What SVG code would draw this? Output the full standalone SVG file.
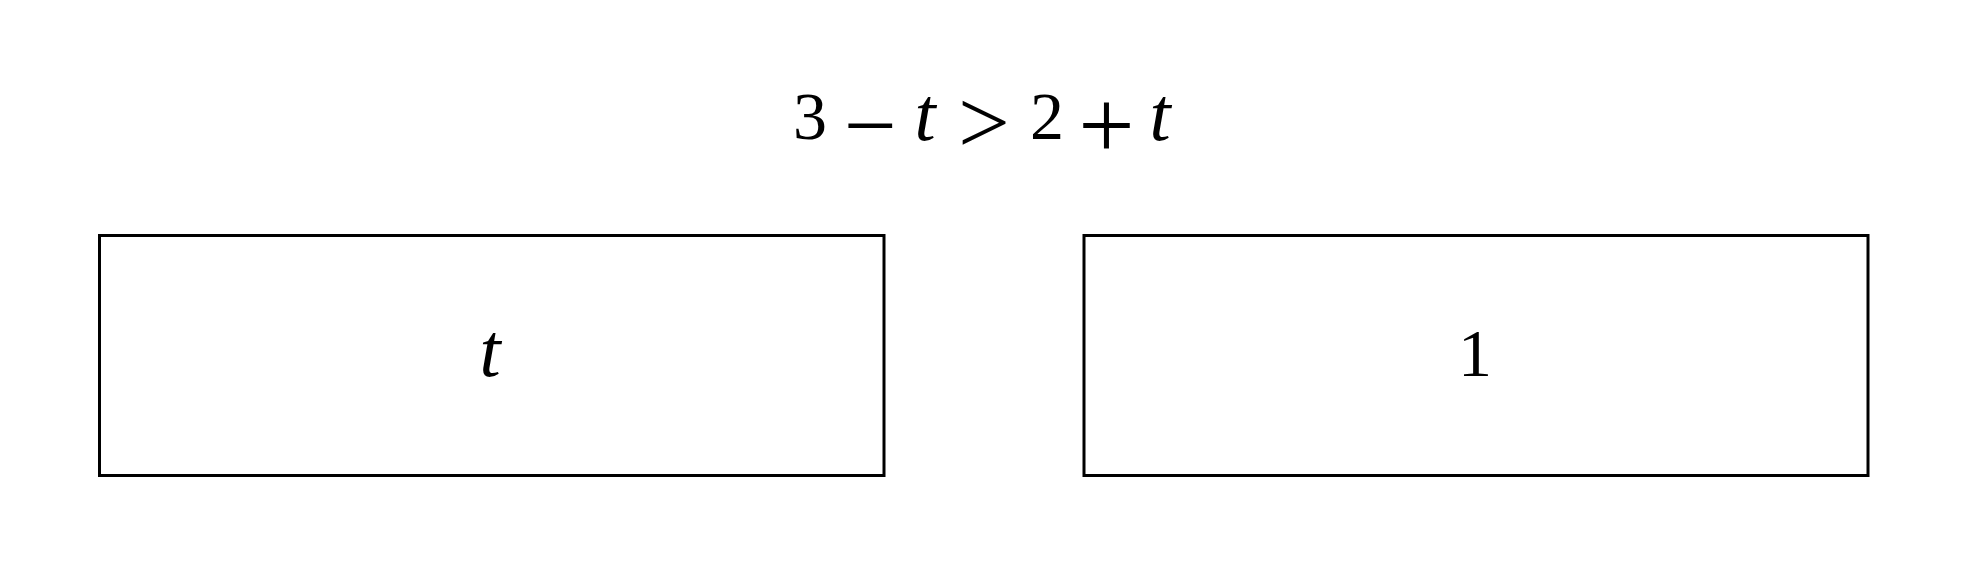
<svg xmlns="http://www.w3.org/2000/svg" width="1969" height="577" viewBox="0 0 1969 577">
<style>
.box{fill:#fff;stroke:#000;stroke-width:3}
.m{font-family:"Liberation Serif","DejaVu Serif",serif;font-size:68px;fill:#000;text-anchor:middle}
.i{font-style:italic;font-size:76px}
</style>
<rect width="1969" height="577" fill="#fff"/>
<g id="equation">
<text class="m" x="810" y="139">3</text>
<text class="m" x="870" y="157" style="font-size:94px">−</text>
<text class="m i" x="925" y="140">t</text>
<text class="m" x="984" y="153" style="font-size:92px">&gt;</text>
<text class="m" x="1047" y="139">2</text>
<text class="m" x="1106.5" y="159" style="font-size:100px">+</text>
<text class="m i" x="1160" y="140">t</text>
</g>
<g id="node-t">
<rect class="box" x="99.5" y="235.5" width="784.5" height="240"/>
<text class="m i" x="490" y="376">t</text>
</g>
<g id="node-1">
<rect class="box" x="1084" y="235.5" width="784" height="240"/>
<text class="m" x="1475" y="376">1</text>
</g>
<g id="connectors"></g>
</svg>
